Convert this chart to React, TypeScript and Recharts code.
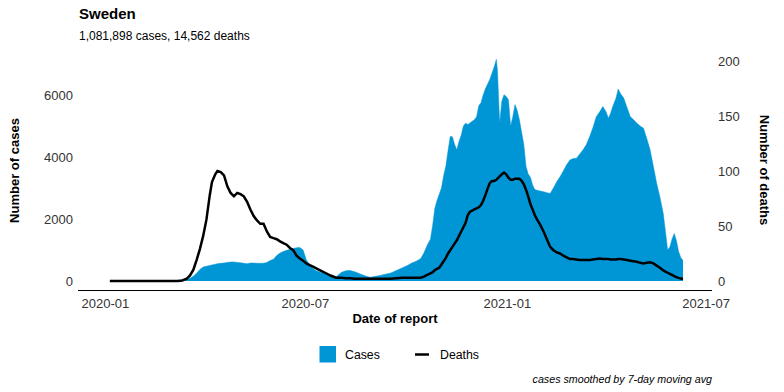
import { ComposedChart, Area, Line, XAxis, YAxis } from "recharts";

const FONT = '"Liberation Sans", Arial, Helvetica, sans-serif';
const BLUE = "#0096d6";

const dates = [
  "2020-01-05", "2020-01-31", "2020-03-01", "2020-03-07", "2020-03-11", "2020-03-15", "2020-03-18", "2020-03-21", "2020-03-24", "2020-03-27",
  "2020-03-30", "2020-04-02", "2020-04-05", "2020-04-07", "2020-04-10", "2020-04-12", "2020-04-15", "2020-04-18", "2020-04-21", "2020-04-24",
  "2020-04-27", "2020-04-30", "2020-05-03", "2020-05-06", "2020-05-09", "2020-05-12", "2020-05-15", "2020-05-18", "2020-05-21", "2020-05-24",
  "2020-05-27", "2020-05-30", "2020-06-02", "2020-06-05", "2020-06-08", "2020-06-11", "2020-06-14", "2020-06-17", "2020-06-20", "2020-06-23",
  "2020-06-26", "2020-06-29", "2020-07-02", "2020-07-05", "2020-07-08", "2020-07-11", "2020-07-15", "2020-07-19", "2020-07-24", "2020-07-29",
  "2020-08-03", "2020-08-07", "2020-08-11", "2020-08-15", "2020-08-20", "2020-08-25", "2020-08-29", "2020-09-03", "2020-09-07", "2020-09-12",
  "2020-09-17", "2020-09-22", "2020-09-27", "2020-10-02", "2020-10-06", "2020-10-10", "2020-10-14", "2020-10-17", "2020-10-20", "2020-10-23",
  "2020-10-25", "2020-10-27", "2020-10-29", "2020-10-31", "2020-11-02", "2020-11-04", "2020-11-06", "2020-11-08", "2020-11-10", "2020-11-12",
  "2020-11-14", "2020-11-16", "2020-11-18", "2020-11-20", "2020-11-22", "2020-11-24", "2020-11-26", "2020-11-28", "2020-11-30", "2020-12-02",
  "2020-12-04", "2020-12-06", "2020-12-08", "2020-12-10", "2020-12-12", "2020-12-14", "2020-12-16", "2020-12-18", "2020-12-20", "2020-12-22",
  "2020-12-23", "2020-12-25", "2020-12-27", "2020-12-29", "2020-12-31", "2021-01-02", "2021-01-04", "2021-01-06", "2021-01-08", "2021-01-10",
  "2021-01-12", "2021-01-14", "2021-01-16", "2021-01-18", "2021-01-20", "2021-01-22", "2021-01-24", "2021-01-26", "2021-01-28", "2021-01-31",
  "2021-02-03", "2021-02-06", "2021-02-09", "2021-02-12", "2021-02-15", "2021-02-18", "2021-02-21", "2021-02-24", "2021-02-27", "2021-03-02",
  "2021-03-05", "2021-03-08", "2021-03-11", "2021-03-14", "2021-03-17", "2021-03-20", "2021-03-23", "2021-03-26", "2021-03-29", "2021-04-01",
  "2021-04-03", "2021-04-05", "2021-04-07", "2021-04-10", "2021-04-12", "2021-04-14", "2021-04-17", "2021-04-20", "2021-04-23", "2021-04-26",
  "2021-04-29", "2021-05-02", "2021-05-05", "2021-05-08", "2021-05-11", "2021-05-14", "2021-05-17", "2021-05-20", "2021-05-23", "2021-05-25",
  "2021-05-27", "2021-05-29", "2021-05-31", "2021-06-02", "2021-06-04", "2021-06-06", "2021-06-08", "2021-06-10",
];

const cases = [
  0, 0, 5, 20, 40, 60, 90, 150, 250, 370,
  450, 480, 500, 520, 540, 560, 570, 580, 600, 610,
  615, 600, 590, 570, 560, 580, 580, 575, 570, 575,
  600, 660, 700, 820, 900, 950, 990, 1020, 1050, 1070,
  1085, 1000, 680, 520, 400, 330, 280, 240, 180, 130,
  280, 330, 340, 300, 230, 160, 120, 150, 180, 220,
  260, 340, 420, 500, 580, 640, 720, 900, 1150, 1350,
  1800, 2350, 2600, 2800, 3000, 3400, 3700, 4200, 4660, 4650,
  4400, 4230, 4500, 4700, 5000, 5090, 5050, 5100, 5150, 5200,
  5300, 5650, 5750, 6000, 6200, 6350, 6500, 6700, 6900, 7150,
  6800, 5100, 5800, 6010, 5950, 5850, 5000, 5300, 5690, 5500,
  5200, 4800, 4400, 3700, 3450, 3350, 3100, 2950, 2930, 2900,
  2880, 2850, 2825, 3000, 3200, 3360, 3550, 3750, 3900, 3950,
  3960, 4100, 4230, 4400, 4660, 4950, 5300, 5450, 5630, 5450,
  5250, 5400, 5630, 5900, 6190, 6050, 5900, 5600, 5300, 5200,
  5090, 5000, 4930, 4600, 4230, 3700, 3150, 2700, 2180, 1600,
  1000, 1100, 1350, 1530, 1300, 950, 750, 665,
];

const deaths = [
  0, 0, 0, 0, 0.5, 2, 5, 10, 19, 29,
  41, 56, 78, 90, 97, 100, 99, 96, 86, 80,
  77, 80, 79, 77, 72, 65, 59, 55, 52, 52,
  45, 40, 39, 38, 36, 34.5, 33, 30, 28, 23,
  20.5, 18.5, 16, 14.5, 13, 11.5, 9.5, 7.5, 5, 3,
  3, 2.5, 2.5, 2, 2, 2, 2, 2, 2, 2,
  2, 2.5, 3, 3, 3, 3, 3, 4, 5.5, 7,
  8, 10, 11, 12, 15, 18, 21, 25, 28, 31,
  34, 37, 41, 45, 49, 53, 60, 63, 64, 65,
  66, 67, 69, 73, 78, 84, 89, 91, 91, 92,
  93, 95, 97, 98.5, 97, 94, 92, 92, 93, 93,
  93, 91, 88, 83, 77, 70, 65, 60, 56, 51,
  45, 38, 31, 28, 26, 25, 23, 21.5, 20, 20,
  19.5, 19, 19, 19, 19, 19.5, 20, 20.5, 20, 20,
  20, 19.5, 19.5, 19.5, 20, 20, 19.5, 19, 18.5, 18,
  17.5, 16.5, 16, 16.5, 17, 16, 14, 12, 9.6, 8.5,
  7.5, 6.5, 5.5, 4.5, 3.5, 2.8, 2.2, 1.8,
];

const xTickDates = ["2020-01-01", "2020-07-01", "2021-01-01", "2021-07-01"];
const xTickLabels = ["2020-01", "2020-07", "2021-01", "2021-07"];
const caseTicks = [0, 2000, 4000, 6000];
const deathTicks = [0, 50, 100, 150, 200];

const ORIGIN = Date.parse("2020-01-01");
const toDay = (d: string) => (Date.parse(d) - ORIGIN) / 86400000;

const data = dates.map((d, i) => ({ day: toDay(d), cases: cases[i], deaths: deaths[i] }));
const xTicks = xTickDates.map(toDay);

export default function App() {
  const tickStyle = { fontSize: 13, fill: "#333", fontFamily: FONT };
  return (
    <div style={{ position: "fixed", left: 0, top: 0, width: 784, height: 392, background: "#fff" }}>
      <ComposedChart
        width={784}
        height={392}
        data={data}
        margin={{ top: 48, left: 38, right: 32, bottom: 71.5 }}
      >
        <XAxis
          dataKey="day"
          type="number"
          domain={[-25, 552.4]}
          ticks={xTicks}
          tickFormatter={(v) => xTickLabels[xTicks.indexOf(v)] ?? ""}
          tickLine={false}
          tickSize={0}
          tickMargin={8}
          height={30}
          axisLine={{ stroke: "#000", strokeWidth: 1 }}
          tick={tickStyle}
          allowDataOverflow
        />
        <YAxis
          yAxisId="left"
          orientation="left"
          width={40}
          domain={[-306, 7516]}
          ticks={caseTicks}
          axisLine={false}
          tickLine={false}
          tickSize={0}
          tickMargin={5}
          tick={tickStyle}
          allowDataOverflow
        />
        <YAxis
          yAxisId="right"
          orientation="right"
          width={40}
          domain={[-8.64, 211.8]}
          ticks={deathTicks}
          axisLine={false}
          tickLine={false}
          tickSize={0}
          tickMargin={6}
          tick={tickStyle}
          allowDataOverflow
        />
        <Area
          yAxisId="left"
          dataKey="cases"
          type="linear"
          baseValue={0}
          fill={BLUE}
          fillOpacity={1}
          stroke={BLUE}
          strokeWidth={0.5}
          isAnimationActive={false}
        />
        <Line
          yAxisId="right"
          dataKey="deaths"
          type="linear"
          stroke="#000"
          strokeWidth={2.5}
          dot={false}
          isAnimationActive={false}
        />
      </ComposedChart>

      <svg width={784} height={392} style={{ position: "absolute", left: 0, top: 0, pointerEvents: "none" }}>
        <g fontFamily={FONT}>
          <text x={79} y={18.5} fontSize={15} fontWeight="bold" fill="#000">Sweden</text>
          <text x={79} y={39.5} fontSize={12} fill="#000">1,081,898 cases, 14,562 deaths</text>

          <text transform="translate(14.5,170.5) rotate(-90)" dy="0.35em" textAnchor="middle" fontSize={13} fontWeight="bold" fill="#000">
            Number of cases
          </text>
          <text transform="translate(765,170) rotate(90)" dy="0.35em" textAnchor="middle" fontSize={13} fontWeight="bold" fill="#000">
            Number of deaths
          </text>
          <text x={395} y={323} textAnchor="middle" fontSize={13} fontWeight="bold" fill="#000">Date of report</text>

          <rect x={319.5} y={346} width={16.5} height={16.5} fill={BLUE} />
          <text x={345} y={358.5} fontSize={12.3} fill="#000">Cases</text>
          <line x1={415} x2={429} y1={354.5} y2={354.5} stroke="#000" strokeWidth={2.5} />
          <text x={440} y={358.5} fontSize={12.3} fill="#000">Deaths</text>

          <text x={712} y={383} textAnchor="end" fontSize={10.7} fontStyle="italic" fill="#000">
            cases smoothed by 7-day moving avg
          </text>
        </g>
      </svg>
    </div>
  );
}
